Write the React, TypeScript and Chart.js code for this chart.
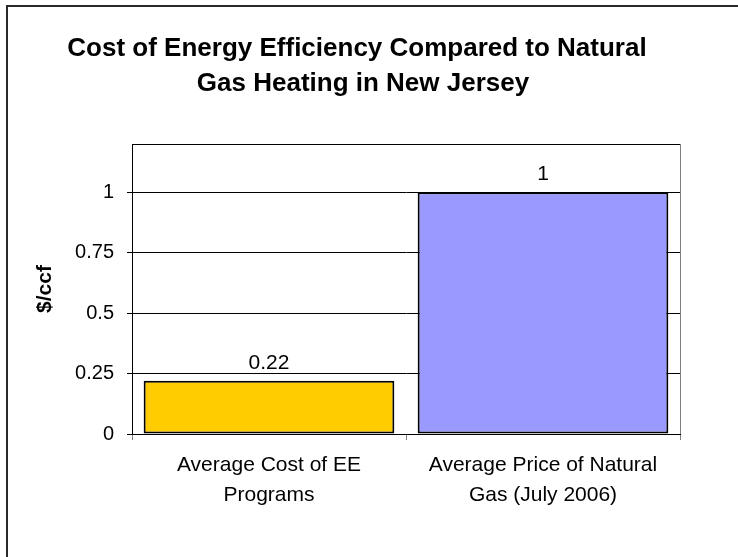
import React, { useEffect, useRef } from 'react';
import { Chart, registerables } from 'chart.js';

Chart.register(...registerables);

const categories: string[][] = [
  ['Average Cost of EE', 'Programs'],
  ['Average Price of Natural', 'Gas (July 2006)'],
];
const values: number[] = [0.22, 1];
const barColors: string[] = ['#FFCC00', '#9999FF'];
const yTickValues: number[] = [0, 0.25, 0.5, 0.75, 1];
const titleLines: string[] = [
  'Cost of Energy Efficiency Compared to Natural',
  'Gas Heating in New Jersey',
];
const yAxisTitle = '$/ccf';

const FONT = "'Liberation Sans', Arial, sans-serif";

const framePlugin = {
  id: 'frameAndTitle',
  beforeDraw(chart: any) {
    const ctx = chart.ctx;
    ctx.save();
    ctx.fillStyle = '#ffffff';
    ctx.fillRect(0, 0, chart.width, chart.height);
    ctx.strokeStyle = '#2a2a2a';
    ctx.lineWidth = 2;
    ctx.strokeRect(7, 6, chart.width + 40, chart.height + 40);
    ctx.fillStyle = '#000000';
    ctx.font = `bold 26px ${FONT}`;
    ctx.textAlign = 'center';
    ctx.textBaseline = 'alphabetic';
    ctx.fillText(titleLines[0], 357, 56);
    ctx.fillText(titleLines[1], 363, 91);
    ctx.restore();
  },
  afterDraw(chart: any) {
    const ctx = chart.ctx;
    const a = chart.chartArea;
    ctx.save();
    ctx.lineWidth = 1;
    ctx.strokeStyle = '#000000';
    ctx.beginPath();
    ctx.moveTo(a.left, Math.round(a.top) + 0.5);
    ctx.lineTo(a.right, Math.round(a.top) + 0.5);
    ctx.stroke();
    ctx.strokeStyle = '#808080';
    ctx.beginPath();
    ctx.moveTo(Math.round(a.right) + 0.5, a.top);
    ctx.lineTo(Math.round(a.right) + 0.5, a.bottom);
    ctx.stroke();
    ctx.restore();
  },
  afterDatasetsDraw(chart: any) {
    const ctx = chart.ctx;
    const meta = chart.getDatasetMeta(0);
    ctx.save();
    ctx.fillStyle = '#000000';
    ctx.font = `21px ${FONT}`;
    ctx.textAlign = 'center';
    ctx.textBaseline = 'alphabetic';
    meta.data.forEach((bar: any, i: number) => {
      ctx.fillText(String(values[i]), bar.x, bar.y - 12);
    });
    ctx.restore();
  },
};

export default function App() {
  const ref = useRef<HTMLCanvasElement | null>(null);
  useEffect(() => {
    document.body.style.margin = '0';
    if (!ref.current) return;
    Chart.defaults.font.family = FONT;
    Chart.defaults.color = '#000000';
    const chart = new Chart(ref.current, {
      type: 'bar',
      data: {
        labels: categories,
        datasets: [
          {
            data: values,
            backgroundColor: barColors,
            borderColor: '#000000',
            borderWidth: 2,
            borderSkipped: false,
            categoryPercentage: 1,
            barPercentage: 0.915,
          },
        ],
      },
      options: {
        animation: false,
        responsive: false,
        devicePixelRatio: 1,
        layout: { padding: { top: 144, right: 58, left: 0, bottom: 0 } },
        plugins: {
          legend: { display: false },
          title: { display: false },
          tooltip: { enabled: false },
        },
        scales: {
          x: {
            afterFit: (s: any) => {
              s.height = 123;
            },
            grid: {
              display: true,
              drawOnChartArea: false,
              color: '#808080',
              tickLength: 6,
              offset: true,
            },
            border: { display: true, color: '#000000', width: 1 },
            ticks: {
              color: '#000000',
              padding: 10,
              maxRotation: 0,
              autoSkip: false,
              font: { size: 21, lineHeight: 1.45 },
            },
          },
          y: {
            min: 0,
            max: 1.2,
            bounds: 'data',
            afterFit: (s: any) => {
              s.width = 132;
            },
            afterBuildTicks: (s: any) => {
              s.ticks = yTickValues.map((v) => ({ value: v }));
            },
            grid: { color: '#000000', lineWidth: 1, tickLength: 5 },
            border: { display: true, color: '#000000', width: 1 },
            ticks: {
              padding: 13,
              color: '#000000',
              font: { size: 20 },
              callback: (v: any) => String(v),
            },
            title: {
              display: true,
              text: yAxisTitle,
              color: '#000000',
              font: { size: 21, weight: 'bold', lineHeight: 1.2 },
              padding: { top: 33, bottom: 0 },
            },
          },
        },
      },
      plugins: [framePlugin],
    });
    return () => chart.destroy();
  }, []);
  return (
    <div style={{ width: 738, height: 557 }}>
      <canvas ref={ref} width={738} height={557} style={{ display: 'block' }} />
    </div>
  );
}
